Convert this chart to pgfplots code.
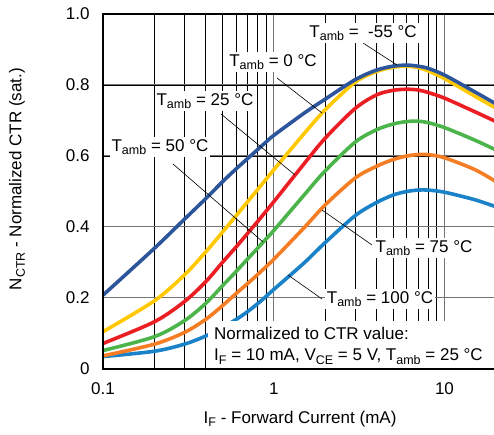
\documentclass[border=0pt]{standalone}
\usepackage{fontspec}
\setmainfont{Liberation Sans}
\usepackage{pgfplots}
\pgfplotsset{compat=1.18}

\definecolor{cm55}{HTML}{2D559B}
\definecolor{c0}{HTML}{FFC800}
\definecolor{c25}{HTML}{EB1E23}
\definecolor{c50}{HTML}{4BB44B}
\definecolor{c75}{HTML}{F57D23}
\definecolor{c100}{HTML}{1982C8}

\newcommand{\fs}{\fontsize{17}{21}\selectfont}
\newcommand{\sub}[1]{\raisebox{-3.5pt}{\fontsize{12.5}{12.5}\selectfont #1}}
\newcommand{\Tamb}{T\sub{amb}}

\begin{document}
\begin{tikzpicture}
\useasboundingbox (-103pt,-66pt) rectangle (391pt,369pt);
\begin{axis}[
    scale only axis,
    width=391pt, height=355pt,
    xmode=log,
    xmin=0.1, xmax=19.5,
    ymin=0, ymax=1,
    xtick={0.1,1,10},
    xticklabels={0.1,1,10},
    minor xtick={0.2,0.3,0.4,0.5,0.6,0.7,0.8,0.9,2,3,4,5,6,7,8,9},
    ytick={0,0.2,0.4,0.6,0.8,1},
    yticklabels={0,0.2,0.4,0.6,0.8,1.0},
    extra y ticks={0.6,0.8},
    extra y tick labels={},
    extra y tick style={major grid style={black, line width=0.9pt}},
    xmajorgrids, xminorgrids, ymajorgrids,
    major grid style={black!55, line width=1pt},
    minor grid style={black, line width=0.7pt},
    axis line style={draw=none},
    major tick length=0pt, minor tick length=0pt,
    tick label style={font=\fs},
    yticklabel style={xshift=-10pt},
    xticklabel style={yshift=-10pt},
    xlabel={I\sub{F} - Forward Current (mA)},
    ylabel={N\sub{CTR} - Normalized CTR (sat.)},
    every axis x label/.style={at={(axis description cs:0.504,-0.14)}, anchor=center, font=\fs},
    every axis y label/.style={at={(axis description cs:-0.22,0.535)}, rotate=90, anchor=center, font=\fs},
    every axis plot/.append style={line width=3.6pt, smooth, no markers},
]
% T_amb = 100 C
\addplot[c100] coordinates {
    (0.1,0.035) (0.2,0.050) (0.3,0.070) (0.4,0.093) (0.5,0.117) (0.6,0.139)
    (0.7,0.161) (0.8,0.183) (0.9,0.204) (1,0.224) (1.5,0.298) (2,0.356)
    (3,0.432) (4,0.469) (5,0.490) (6,0.500) (7,0.504) (8,0.504)
    (10,0.498) (15,0.477) (20,0.457)
};
% T_amb = 75 C
\addplot[c75] coordinates {
    (0.1,0.037) (0.2,0.070) (0.3,0.103) (0.4,0.140) (0.5,0.178) (0.6,0.212)
    (0.7,0.240) (0.8,0.265) (0.9,0.288) (1,0.309) (1.5,0.397) (2,0.462)
    (3,0.538) (4,0.571) (5,0.590) (6,0.600) (7,0.604) (8,0.604)
    (10,0.595) (15,0.562) (20,0.528)
};
% T_amb = 50 C
\addplot[c50] coordinates {
    (0.1,0.052) (0.2,0.091) (0.3,0.136) (0.4,0.185) (0.5,0.234) (0.6,0.274)
    (0.7,0.309) (0.8,0.339) (0.9,0.366) (1,0.390) (1.5,0.489) (2,0.558)
    (3,0.639) (4,0.674) (5,0.690) (6,0.697) (7,0.698) (8,0.694)
    (10,0.680) (15,0.645) (20,0.617)
};
% T_amb = 25 C
\addplot[c25] coordinates {
    (0.1,0.072) (0.2,0.133) (0.3,0.190) (0.4,0.246) (0.5,0.300) (0.6,0.343)
    (0.7,0.381) (0.8,0.414) (0.9,0.444) (1,0.471) (1.5,0.577) (2,0.650)
    (3,0.734) (4,0.772) (5,0.785) (6,0.788) (7,0.786) (8,0.779)
    (10,0.763) (15,0.725) (20,0.697)
};
% T_amb = 0 C
\addplot[c0] coordinates {
    (0.1,0.105) (0.2,0.192) (0.3,0.265) (0.4,0.330) (0.5,0.385) (0.6,0.431)
    (0.7,0.470) (0.8,0.504) (0.9,0.534) (1,0.561) (1.5,0.662) (2,0.730)
    (3,0.808) (4,0.838) (5,0.850) (6,0.853) (7,0.849) (8,0.840)
    (10,0.818) (15,0.769) (20,0.735)
};
% T_amb = -55 C
\addplot[cm55] coordinates {
    (0.1,0.208) (0.2,0.340) (0.3,0.422) (0.4,0.480) (0.5,0.527) (0.6,0.563)
    (0.7,0.592) (0.8,0.617) (0.9,0.639) (1,0.658) (1.5,0.720) (2,0.760)
    (3,0.815) (4,0.842) (5,0.853) (6,0.856) (7,0.853) (8,0.847)
    (10,0.828) (15,0.781) (20,0.747)
};
\end{axis}

% leader lines
\begin{scope}[line width=0.6pt]
\draw (260pt,326pt) -- (294pt,304pt);
\draw (174pt,291pt) -- (219pt,256pt);
\draw (118pt,255pt) -- (192pt,194pt);
\draw (70pt,205pt) -- (160pt,127pt);
\draw (269pt,124pt) -- (219pt,159pt);
\draw (219pt,70pt) -- (185pt,94pt);
\end{scope}

% labels
\begin{scope}[every node/.style={fill=white, inner sep=2pt, font=\fs}]
\node at (260pt,336pt) {\Tamb{} = \ -55 °C};
\node at (170pt,307pt) {\Tamb{} = 0 °C};
\node at (102pt,268pt) {\Tamb{} = 25 °C};
\node at (57pt,222pt) {\Tamb{} = 50 °C};
\node at (321pt,121pt) {\Tamb{} = 75 °C};
\node at (277pt,70pt) {\Tamb{} = 100 °C};
\end{scope}

\fill[white] (105pt,1pt) rectangle (395pt,48pt);
\node[anchor=west, align=left, inner sep=0pt, font=\fs] at (111pt,23pt)
    {Normalized to CTR value:\\I\sub{F} = 10 mA, V\sub{CE} = 5 V, \Tamb{} = 25 °C};

% axis frame (open on the right)
\draw[line width=1.8pt] (400pt,355pt) -- (0pt,355pt) -- (0pt,0pt) -- (400pt,0pt);
\end{tikzpicture}
\end{document}
